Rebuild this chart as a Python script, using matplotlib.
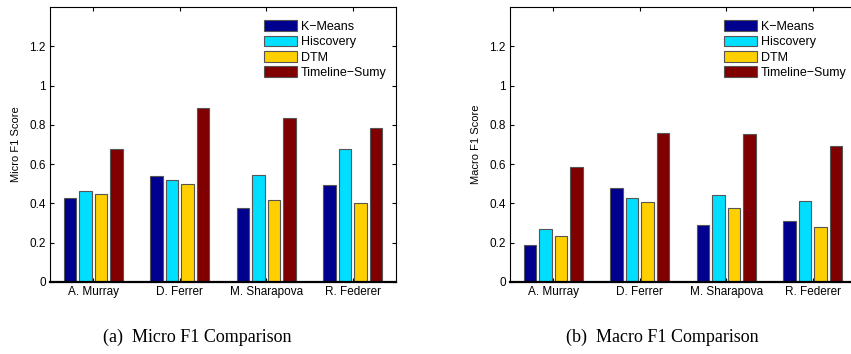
import numpy as np
import matplotlib
matplotlib.use("Agg")
from matplotlib import pyplot as plt

plt.rcParams['font.family'] = ['Liberation Sans', 'DejaVu Sans']

players = ['A. Murray', 'D. Ferrer', 'M. Sharapova', 'R. Federer']
methods = ['K\u2212Means', 'Hiscovery', 'DTM', 'Timeline\u2212Sumy']
colors = ['#00008f', '#00dfff', '#ffcf00', '#800000']

micro_kmeans = [0.428, 0.542, 0.376, 0.494]
micro_hiscovery = [0.465, 0.520, 0.543, 0.675]
micro_dtm = [0.449, 0.499, 0.420, 0.400]
micro_timeline = [0.679, 0.884, 0.834, 0.782]

macro_kmeans = [0.190, 0.479, 0.291, 0.311]
macro_hiscovery = [0.269, 0.427, 0.442, 0.411]
macro_dtm = [0.235, 0.406, 0.377, 0.279]
macro_timeline = [0.586, 0.760, 0.755, 0.692]

W, H = 851, 354
fig = plt.figure(figsize=(W / 100, H / 100), dpi=100)


def panel(left, series, ylabel, caption, cap_x):
    ax = fig.add_axes([left / W, 1 - 282 / H, 346 / W, 275 / H])
    x = np.arange(1, len(players) + 1)
    step = 0.18
    for i, vals in enumerate(series):
        ax.bar(x + (i - 1.5) * step, vals, width=0.145, color=colors[i],
               edgecolor='#555555', linewidth=0.8, label=methods[i], zorder=2)
    ax.set_xlim(0.5, 4.5)
    ax.set_ylim(0, 1.4)
    ax.set_yticks([0, 0.2, 0.4, 0.6, 0.8, 1.0, 1.2])
    ax.set_yticklabels(['0', '0.2', '0.4', '0.6', '0.8', '1', '1.2'])
    ax.set_xticks(x)
    ax.set_xticklabels(players)
    ax.tick_params(direction='in', length=3, width=0.8, labelsize=8.5,
                   top=True, right=True, pad=3)
    for s in ax.spines.values():
        s.set_linewidth(0.8)
    ax.spines['bottom'].set_linewidth(1.6)
    ax.set_ylabel(ylabel, fontsize=8, labelpad=6)
    ax.legend(loc='upper right', bbox_to_anchor=(0.99, 0.975), frameon=False,
              fontsize=9, handlelength=2.6, handleheight=0.95,
              handletextpad=0.3, labelspacing=0.22, borderpad=0.3,
              borderaxespad=0.2)
    fig.text(cap_x / W, 1 - 337 / H, caption, ha='center', va='center',
             fontsize=13, family=['Liberation Serif', 'DejaVu Serif'])
    return ax


panel(50, [micro_kmeans, micro_hiscovery, micro_dtm, micro_timeline],
      'Micro F1 Score', '(a)  Micro F1 Comparison', 197)
panel(510, [macro_kmeans, macro_hiscovery, macro_dtm, macro_timeline],
      'Macro F1 Score', '(b)  Macro F1 Comparison', 662)

fig.savefig('out.png', dpi=100)
